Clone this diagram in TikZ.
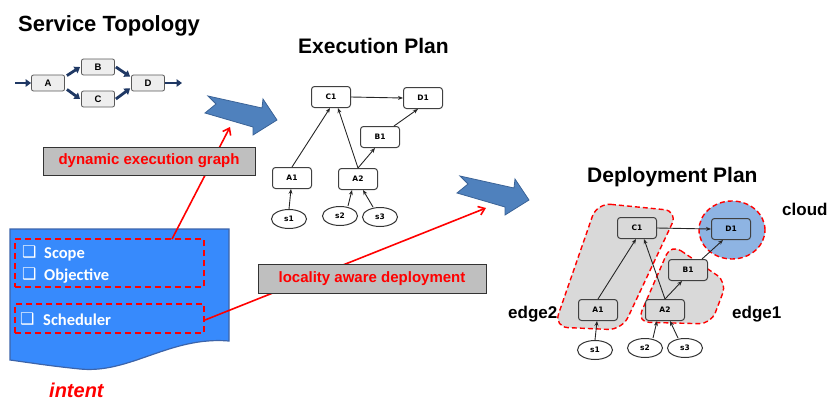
\documentclass[tikz,border=0pt]{standalone}
\usepackage{fontspec}
\setmainfont{Liberation Sans}
\newfontfamily\calfont{Carlito}
\newfontfamily\dvfont{DejaVu Sans}
\usetikzlibrary{arrows.meta,shapes.geometric}
\definecolor{navyarr}{RGB}{31,56,100}
\definecolor{bigblue}{RGB}{79,129,189}
\definecolor{bigblueb}{RGB}{58,98,150}
\definecolor{intentblue}{RGB}{55,138,252}
\definecolor{intentb}{RGB}{60,100,170}
\definecolor{lblgray}{RGB}{191,191,191}
\definecolor{reggray}{RGB}{217,217,217}
\definecolor{cloudblue}{RGB}{142,180,227}
\definecolor{topofill}{RGB}{238,238,238}
\begin{document}
\begin{tikzpicture}[x=1pt,y=-1pt,
  stbox/.style={draw=black!65, fill=topofill, rounded corners=2pt, line width=0.8pt,
    minimum width=33pt, minimum height=16pt, inner sep=0pt, font=\bfseries\fontsize{9.5}{9.5}\selectfont},
  starr/.style={draw=navyarr, line width=2.8pt, -{Triangle[length=5.5pt,width=7.5pt]}},
  gbox/.style={draw=black!75, fill=white, rounded corners=3pt, line width=1pt,
    minimum width=39pt, minimum height=21pt, inner sep=0pt, font=\dvfont\bfseries\fontsize{7.5}{7.5}\selectfont},
  gell/.style={ellipse, draw=black!80, fill=white, line width=1pt,
    minimum width=35pt, minimum height=19pt, inner sep=0pt, font=\dvfont\bfseries\fontsize{7.5}{7.5}\selectfont},
  garr/.style={draw=black!85, line width=0.9pt, -{Stealth[length=5pt,width=4pt]}},
  title/.style={anchor=base west, inner sep=0pt, font=\bfseries\fontsize{21}{21}\selectfont},
  side/.style={anchor=base west, inner sep=0pt, font=\bfseries\fontsize{17}{17}\selectfont},
  lblbox/.style={draw=black!80, fill=lblgray, line width=0.9pt, inner sep=0pt,
    text=red, font=\bfseries\fontsize{15}{15}\selectfont},
  dbox/.style={draw=red, line width=2pt, dash pattern=on 6pt off 4pt, inner sep=0pt},
  redarr/.style={draw=red, line width=1.6pt, -{Straight Barb[length=6pt,width=9pt]}},
  itxt/.style={anchor=base west, inner sep=0pt, text=white, font=\calfont\bfseries\fontsize{16.5}{16.5}\selectfont},
  chk/.style={anchor=base west, inner sep=0pt, text=white, font=\dvfont\bfseries\fontsize{16}{16}\selectfont},
  region/.style={draw=red, fill=reggray, line width=1.4pt, dash pattern=on 5pt off 3pt},
  bigarrow/.style={fill=bigblue, draw=bigblueb, line width=0.8pt}
]
\useasboundingbox (0,0) rectangle (836,410);

% ---------------- Service topology ----------------
\node[title, font=\bfseries\fontsize{22}{22}\selectfont] (sttitle) at (18,31) {Service Topology};
\node[stbox] (A) at (48,83) {A};
\node[stbox] (B) at (98,67) {B};
\node[stbox] (C) at (98,99) {C};
\node[stbox] (D) at (148,83) {D};
\coordinate (stin) at (15,83);
\coordinate (stout) at (182,83);
\draw[starr] (stin) -- (A.west);
\draw[starr] ([xshift=2pt,yshift=-1pt]A.north east) -- ([xshift=-1pt]B.west);
\draw[starr] ([xshift=2pt,yshift=2pt]A.south east) -- ([xshift=-1pt]C.west);
\draw[starr] ([xshift=1pt]B.east) -- ([xshift=-1pt,yshift=-2pt]D.north west);
\draw[starr] ([xshift=1pt]C.east) -- ([xshift=-1pt,yshift=3pt]D.south west);
\draw[starr] (D.east) -- (stout);

% ---------------- Big blue arrows ----------------
\foreach \dx/\dy [count=\i] in {0/0, 252/80} {
  \begin{scope}[shift={(\dx,\dy)}]
    \draw[bigarrow] (208,96) -- (262,108) -- (263,99) -- (277,120) -- (253,135) -- (253,127)
      -- (205,113) -- (216,104) -- cycle;
  \end{scope}
}

% ---------------- Execution plan ----------------
\node[title] (eptitle) at (298,53) {Execution Plan};
\node[gbox] (eC1) at (331,97) {C1};
\node[gbox] (eD1) at (423,98) {D1};
\node[gbox] (eB1) at (380,137) {B1};
\node[gbox] (eA1) at (292,178) {A1};
\node[gbox] (eA2) at (358,179) {A2};
\node[gell] (es1) at (289,219) {s1};
\node[gell] (es2) at (340,216) {s2};
\node[gell] (es3) at (380,217) {s3};
\draw[garr] (eC1.east) -- (eD1.west);
\draw[garr] (eA1.north) -- ([xshift=-1pt]eC1.south);
\draw[garr] (eA2.north) -- ([xshift=7pt]eC1.south);
\draw[garr] (eA2.north) -- ([xshift=-5pt]eB1.south);
\draw[garr] ([xshift=-6pt]eB1.north east) -- ([xshift=-5pt]eD1.south);
\draw[garr] (es1.north) -- ([xshift=-1pt]eA1.south);
\draw[garr] ([xshift=8pt]es2.north) -- ([xshift=-6pt]eA2.south);
\draw[garr] ([xshift=-7pt]es3.north) -- ([xshift=5pt]eA2.south);

% ---------------- Intent document ----------------
\draw[fill=intentblue, draw=intentb, line width=1.2pt]
  (10,229) -- (229,229) -- (229,341)
  .. controls (170,336) and (130,374) .. (80,369)
  .. controls (50,366) and (25,362) .. (10,360) -- cycle;
\node[dbox, minimum width=189pt, minimum height=48pt] (scopebox) at (109.5,263) {};
\node[dbox, minimum width=189pt, minimum height=29pt] (schedbox) at (109.5,318.5) {};
\node[chk] (ck1) at (22,257) {❑};
\node[itxt] (tscope) at (44,258) {Scope};
\node[chk] (ck2) at (22,279) {❑};
\node[itxt] (tobj) at (44,280) {Objective};
\node[chk] (ck3) at (20,324) {❑};
\node[itxt] (tsched) at (43,325) {Scheduler};
\node[anchor=base west, inner sep=0pt, text=red, font=\bfseries\itshape\fontsize{20}{20}\selectfont] (tintent) at (49,397) {intent};

% ---------------- Red connectors with labels ----------------
\coordinate (r1s) at (172,239);
\coordinate (r1e) at (230,127);
\coordinate (r2s) at (205,320);
\coordinate (r2e) at (486,208);
\draw[redarr] (r1s) -- (r1e);
\draw[redarr] (r2s) -- (r2e);
\node[lblbox, minimum width=212pt, minimum height=28pt] (lbl1) at (149,161) {dynamic execution graph};
\node[lblbox, minimum width=228pt, minimum height=29pt] (lbl2) at (372,278.5) {locality aware deployment};

% ---------------- Deployment plan ----------------
\node[title] (dptitle) at (587,182) {Deployment Plan};
\draw[region, rounded corners=14pt] (597,203) -- (678,211) -- (622,330) -- (554,327) -- cycle;
\draw[region, rounded corners=12pt] (671,244) -- (727,282) -- (711,324) -- (637,322) -- cycle;
\draw[region, fill=cloudblue] (732,230) ellipse [x radius=33pt, y radius=29pt];
\node[side] (tcloud) at (782,215) {cloud};
\node[side] (tedge2) at (508,318) {edge2};
\node[side] (tedge1) at (732,318) {edge1};

\node[gbox, fill=reggray] (dC1) at (637,228) {C1};
\node[gbox, fill=cloudblue] (dD1) at (731,229) {D1};
\node[gbox, fill=reggray] (dB1) at (688,270) {B1};
\node[gbox, fill=reggray] (dA1) at (598,310) {A1};
\node[gbox, fill=reggray] (dA2) at (665,310) {A2};
\node[gell] (ds1) at (595,350) {s1};
\node[gell] (ds2) at (645,348) {s2};
\node[gell] (ds3) at (685,348) {s3};
\draw[garr] (dC1.east) -- (dD1.west);
\draw[garr] (dA1.north) -- ([xshift=-1pt]dC1.south);
\draw[garr] (dA2.north) -- ([xshift=7pt]dC1.south);
\draw[garr] (dA2.north) -- ([xshift=-6pt]dB1.south);
\draw[garr] ([xshift=-6pt]dB1.north east) -- ([xshift=-8pt]dD1.south);
\draw[garr] (ds1.north) -- ([xshift=-1pt]dA1.south);
\draw[garr] ([xshift=8pt]ds2.north) -- ([xshift=-8pt]dA2.south);
\draw[garr] ([xshift=-7pt]ds3.north) -- ([xshift=5pt]dA2.south);
\end{tikzpicture}
\end{document}
